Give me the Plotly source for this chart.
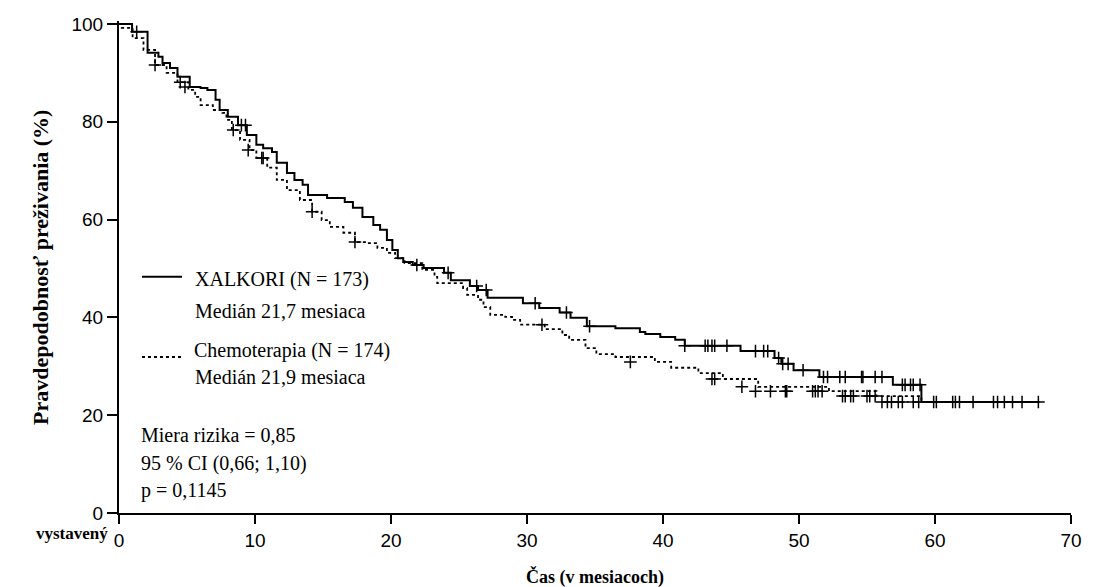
import plotly.graph_objects as go

# ---- XALKORI (solid) step curve: time (months), survival (%)
xal_t = [0, 0.6, 0.96, 2.1, 2.9, 3.2, 3.75, 4.3, 5.2, 6.0, 6.5, 7.1, 7.4, 8.0, 8.75, 9.4,
         10.1, 10.6, 11.25, 11.6, 12.35, 12.9, 13.5, 13.9, 15.3, 16.6, 17.2, 17.9, 18.7,
         19.2, 19.7, 20.1, 20.5, 20.9, 21.6, 22.4, 23.9, 24.4, 25.8, 26.4, 27.1, 29.7,
         30.9, 32.4, 33.2, 34.4, 36.5, 38.3, 38.7, 39.8, 40.9, 41.6, 45.7, 48.2, 48.7,
         49.6, 51.5, 56.9, 59.0, 67.7]
xal_s = [100, 100, 98.4, 94.1, 93.3, 92.0, 91.0, 89.2, 87.1, 86.9, 86.5, 84.5, 82.4, 81.0,
         79.3, 77.3, 75.3, 74.6, 73.8, 71.6, 69.5, 68.1, 67.1, 65.0, 64.4, 63.6, 62.4, 60.5,
         58.9, 57.9, 55.8, 53.8, 52.1, 51.3, 50.7, 50.1, 49.1, 47.6, 46.4, 45.6, 44.0, 42.9,
         41.9, 41.0, 39.9, 38.2, 37.8, 37.0, 36.6, 36.0, 35.4, 34.2, 33.1, 31.7, 30.5,
         29.2, 27.8, 26.2, 22.7, 22.7]
xal_cens_t = [1.3, 4.85, 9.0, 9.3, 21.9, 24.2, 26.3, 27.0, 30.6, 32.9, 34.6, 41.6, 43.1,
              43.3, 43.6, 43.8, 44.7, 46.8, 47.4, 47.7, 48.5, 48.8, 49.2, 50.3, 51.8, 52.1,
              53.0, 53.4, 54.6, 54.7, 55.6, 56.1, 57.6, 57.8, 58.2, 58.4, 58.9, 59.9, 60.1,
              61.3, 61.5, 61.8, 62.8, 64.3, 64.6, 65.1, 65.7, 66.4, 67.6]
xal_cens_s = [98.4, 87.1, 79.3, 79.3, 50.7, 49.1, 46.4, 45.6, 42.9, 41.0, 38.2, 34.2, 34.2,
              34.2, 34.2, 34.2, 34.2, 33.1, 33.1, 33.1, 31.7, 30.5, 30.5, 29.2, 27.8, 27.8,
              27.8, 27.8, 27.8, 27.8, 27.8, 27.8, 26.2, 26.2, 26.2, 26.2, 26.2, 22.7, 22.7,
              22.7, 22.7, 22.7, 22.7, 22.7, 22.7, 22.7, 22.7, 22.7, 22.7]

# ---- Chemoterapia (dotted) step curve
chem_t = [0, 0.2, 1.0, 1.8, 2.65, 3.5, 4.3, 5.1, 5.6, 6.0, 6.9, 7.6, 7.9, 8.3, 8.9, 9.6,
          10.1, 10.9, 11.6, 12.35, 13.3, 14.2, 14.9, 15.5, 16.5, 17.35, 18.2, 19.0, 19.7,
          20.3, 21.0, 22.3, 23.2, 23.4, 25.3, 25.6, 26.4, 26.8, 27.3, 28.4, 28.9, 29.5,
          31.3, 32.6, 33.1, 34.3, 35.1, 36.5, 39.4, 40.6, 42.6, 44.4, 47.0, 52.2, 55.7, 59.0]
chem_s = [100, 99.2, 97.1, 94.7, 91.6, 90.0, 88.1, 86.5, 85.1, 83.4, 82.4, 81.8, 80.4, 78.3,
          76.3, 74.2, 72.6, 70.6, 68.1, 66.0, 64.0, 61.6, 59.9, 58.5, 57.3, 55.4, 55.2, 54.2,
          53.2, 52.1, 51.1, 49.7, 48.3, 47.0, 46.0, 44.6, 43.6, 42.1, 40.5, 40.1, 39.5, 38.5,
          37.6, 36.4, 35.4, 33.7, 32.5, 31.9, 30.9, 29.7, 28.6, 27.4, 25.8, 24.9, 23.9, 22.7]
chem_cens_t = [2.65, 4.5, 8.4, 9.5, 10.5, 10.6, 14.2, 17.35, 31.1, 37.6, 43.6, 43.8, 45.8,
               46.8, 47.9, 49.0, 49.1, 51.0, 51.2, 51.4, 51.7, 53.2, 53.4, 53.8, 54.0, 55.0,
               55.2, 55.6, 56.1, 56.5, 56.8, 57.3, 57.6, 58.4, 58.8]
chem_cens_s = [91.6, 88.1, 78.3, 74.2, 72.6, 72.6, 61.6, 55.4, 38.5, 30.9, 27.4, 27.4, 25.8,
               24.9, 24.9, 24.9, 24.9, 24.9, 24.9, 24.9, 24.9, 23.9, 23.9, 23.9, 23.9, 23.9,
               23.9, 23.9, 22.7, 22.7, 22.7, 22.7, 22.7, 22.7, 22.7]

x_ticks = [0, 10, 20, 30, 40, 50, 60, 70]
y_ticks = [0, 20, 40, 60, 80, 100]

legend_lines = ["XALKORI (N = 173)", "Medián 21,7 mesiaca",
                "Chemoterapia (N = 174)", "Medián 21,9 mesiaca"]
stats_lines = ["Miera rizika = 0,85", "95 % CI (0,66; 1,10)", "p = 0,1145"]

SERIF = "Liberation Serif, Times New Roman, serif"
SANS = "Liberation Sans, Arial, sans-serif"

fig = go.Figure()
fig.add_trace(go.Scatter(x=xal_t, y=xal_s, mode="lines", line=dict(color="black", width=2, shape="hv"),
                         showlegend=False, hoverinfo="skip"))
fig.add_trace(go.Scatter(x=chem_t, y=chem_s, mode="lines",
                         line=dict(color="black", width=1.8, shape="hv", dash="dot"),
                         showlegend=False, hoverinfo="skip"))
fig.add_trace(go.Scatter(x=xal_cens_t, y=xal_cens_s, mode="markers",
                         marker=dict(symbol="cross-thin", size=9, line=dict(color="black", width=1.5)),
                         showlegend=False, hoverinfo="skip", cliponaxis=False))
fig.add_trace(go.Scatter(x=chem_cens_t, y=chem_cens_s, mode="markers",
                         marker=dict(symbol="cross-thin", size=9, line=dict(color="black", width=1.5)),
                         showlegend=False, hoverinfo="skip", cliponaxis=False))

# legend samples
fig.add_shape(type="line", x0=1.69, x1=4.63, y0=48.3, y1=48.3, line=dict(color="black", width=2))
fig.add_shape(type="line", x0=1.69, x1=4.63, y0=31.9, y1=31.9, line=dict(color="black", width=1.8, dash="dot"))

ann = []
leg_pos = [(5.44, 47.8), (5.44, 41.3), (5.37, 33.3), (5.44, 27.8)]
for txt, (ax, ay) in zip(legend_lines, leg_pos):
    ann.append(dict(x=ax, y=ay, xref="x", yref="y", text=txt, showarrow=False, xanchor="left",
                    yanchor="middle", font=dict(family=SERIF, size=20, color="black")))
stat_pos = [15.9, 10.2, 4.7]
for txt, ay in zip(stats_lines, stat_pos):
    ann.append(dict(x=1.47, y=ay, xref="x", yref="y", text=txt, showarrow=False, xanchor="left",
                    yanchor="middle", font=dict(family=SERIF, size=20, color="black")))

# axis titles
ann.append(dict(x=0.5, y=-0.13, xref="paper", yref="paper", text="Čas (v mesiacoch)", showarrow=False,
                xanchor="center", yanchor="middle",
                font=dict(family=SERIF, size=18, color="black", weight="bold")))
ann.append(dict(x=-0.083, y=0.5, xref="paper", yref="paper", text="Pravdepodobnosť preživania (%)",
                showarrow=False, textangle=-90, xanchor="center", yanchor="middle",
                font=dict(family=SERIF, size=22, color="black", weight="bold")))
ann.append(dict(x=-0.0095, y=-0.041, xref="paper", yref="paper", text="vystavený", showarrow=False,
                xanchor="right", yanchor="middle",
                font=dict(family=SERIF, size=17, color="black", weight="bold")))

# the page body adds an 8 px offset, so the figure is sized to the remaining 1092 x 579
fig.update_layout(
    width=1092, height=579,
    margin=dict(l=111, r=29, t=13, b=74, autoexpand=False),
    paper_bgcolor="white", plot_bgcolor="white",
    annotations=ann,
    xaxis=dict(range=[0, 70], tickvals=x_ticks, ticktext=[str(v) for v in x_ticks],
               showline=True, linecolor="black", linewidth=2, ticks="outside", ticklen=9,
               tickwidth=1.5, tickcolor="black", showgrid=False, zeroline=False,
               tickfont=dict(family=SANS, size=19, color="black")),
    yaxis=dict(range=[0, 100.6], tickvals=y_ticks, ticktext=[str(v) for v in y_ticks],
               showline=True, linecolor="black", linewidth=2, ticks="outside", ticklen=10,
               tickwidth=1.5, tickcolor="black", showgrid=False, zeroline=False,
               tickfont=dict(family=SANS, size=19, color="black")),
)

fig.write_html("out.html")
